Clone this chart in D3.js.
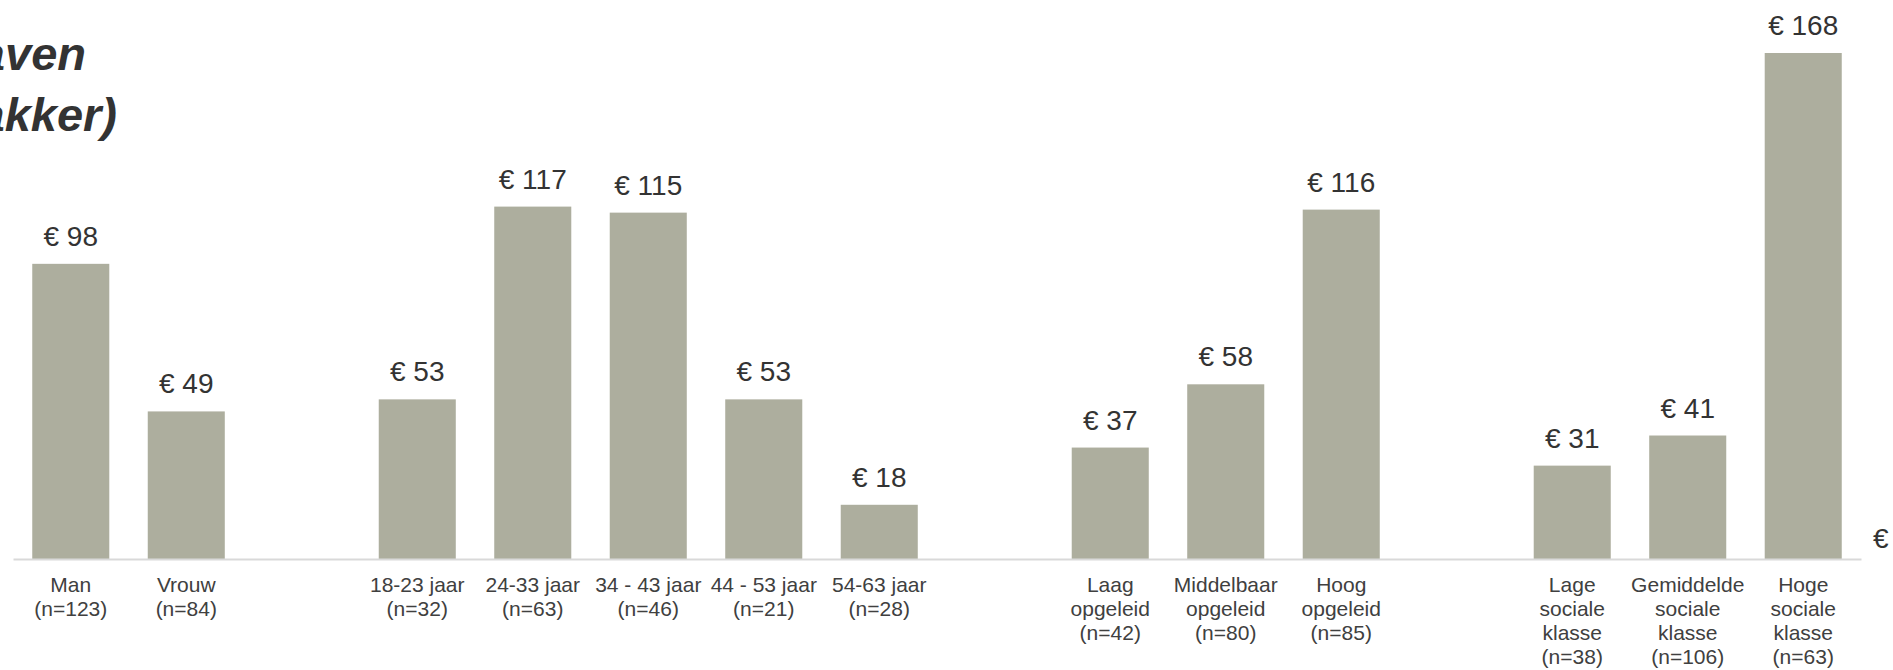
<!DOCTYPE html>
<html>
<head>
<meta charset="utf-8">
<script src="https://cdn.jsdelivr.net/npm/d3@7"></script>
<style>
  body { margin: 0; background: #fff; }
  svg { display: block; font-family: Arial, "Liberation Sans", sans-serif; }
</style>
</head>
<body>
<svg width="1893" height="670"></svg>
<script>
const svg = d3.select("svg"),
  width = +svg.attr("width"),
  height = +svg.attr("height");

// slots with blank names are empty spacers between the groups
const categories = [
  "Man|(n=123)", "Vrouw|(n=84)", "",
  "18-23 jaar|(n=32)", "24-33 jaar|(n=63)", "34 - 43 jaar|(n=46)", "44 - 53 jaar|(n=21)", "54-63 jaar|(n=28)", " ",
  "Laag|opgeleid|(n=42)", "Middelbaar|opgeleid|(n=80)", "Hoog|opgeleid|(n=85)", "  ",
  "Lage|sociale|klasse|(n=38)", "Gemiddelde|sociale|klasse|(n=106)", "Hoge|sociale|klasse|(n=63)"
];
const values = [98, 49, null, 53, 117, 115, 53, 18, null, 37, 58, 116, null, 31, 41, 168];
const titleLines = ["Gemiddelde uitgaven", "(bij de bakker)"];

const barColor = "#adae9e",
  textColor = "#333333";

const x = d3.scaleBand()
  .domain(categories)
  .range([13, 1861])
  .paddingInner(0.333)
  .paddingOuter(0.1667);

const y = d3.scaleLinear()
  .domain([0, 168])
  .range([559, 53]);

const data = categories.map((c, i) => ({ cat: c, value: values[i] })).filter(d => d.value != null);

// bars
svg.append("g")
  .selectAll("rect")
  .data(data)
  .enter()
  .append("rect")
  .attr("x", d => x(d.cat))
  .attr("width", x.bandwidth())
  .attr("y", d => y(d.value))
  .attr("height", d => y(0) - y(d.value))
  .attr("fill", barColor);

// value labels
svg.append("g")
  .selectAll("text")
  .data(data)
  .enter()
  .append("text")
  .attr("x", d => x(d.cat) + x.bandwidth() / 2)
  .attr("y", d => y(d.value) - 18)
  .attr("text-anchor", "middle")
  .attr("font-size", 28)
  .attr("fill", textColor)
  .text(d => "€ " + d.value);

// x axis
const xAxis = svg.append("g")
  .attr("transform", "translate(0," + y(0) + ")")
  .call(d3.axisBottom(x).tickSize(0).tickFormat(""));

xAxis.select(".domain").attr("stroke", "#d9d9d9").attr("stroke-width", 2);

xAxis.selectAll(".tick text").remove();
xAxis.selectAll(".tick")
  .filter(d => d.trim() !== "")
  .append("text")
  .attr("text-anchor", "middle")
  .attr("font-size", 21)
  .attr("fill", "#404040")
  .selectAll("tspan")
  .data(d => d.split("|"))
  .enter()
  .append("tspan")
  .attr("x", 0)
  .attr("y", (d, i) => 33 + i * 24)
  .text(d => d);

// y-axis unit, partly clipped at the right edge
svg.append("text")
  .attr("x", 1873)
  .attr("y", 548)
  .attr("font-size", 28)
  .attr("fill", textColor)
  .text("€");

// title, running off the left edge
svg.append("g")
  .selectAll("text")
  .data(titleLines)
  .enter()
  .append("text")
  .attr("x", (d, i) => i === 0 ? 86 : 117)
  .attr("y", (d, i) => 70 + i * 61)
  .attr("text-anchor", "end")
  .attr("font-size", 47)
  .attr("font-weight", "bold")
  .attr("font-style", "italic")
  .attr("fill", textColor)
  .text(d => d);
</script>
</body>
</html>
